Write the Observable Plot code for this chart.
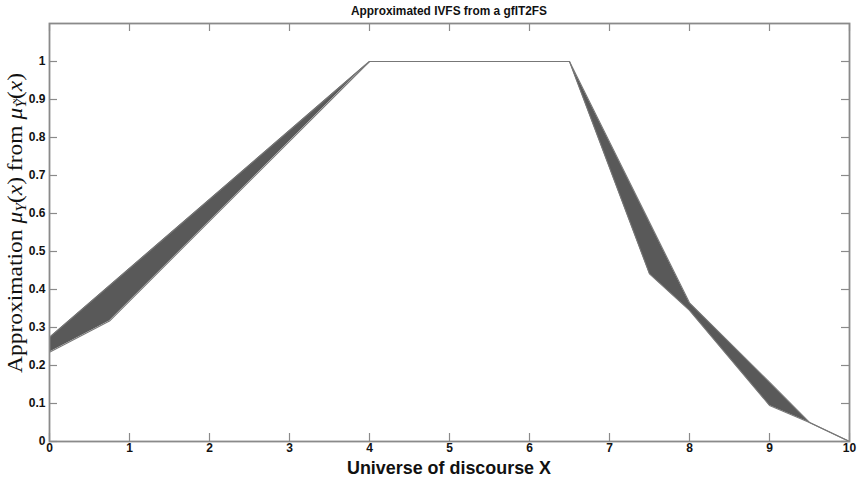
<!DOCTYPE html>
<html><head><meta charset="utf-8">
<script src="https://cdn.jsdelivr.net/npm/d3@7"></script>
<script src="https://cdn.jsdelivr.net/npm/@observablehq/plot@0.6"></script>
<style>body{margin:0;background:#fff}</style>
</head><body><div id="chart"></div>
<script>
// Data
const xValues     = [0,     0.75,  4, 6.5, 7.5,   8,     9,     9.5,  10];
const lowerValues = [0.235, 0.317, 1, 1,   0.441, 0.345, 0.095, 0.05, 0];
const upperValues = [0.274, 0.41,  1, 1,   0.577, 0.365, 0.156, 0.05, 0];
const xTicks = [0, 1, 2, 3, 4, 5, 6, 7, 8, 9, 10];
const yTicks = [0, 0.1, 0.2, 0.3, 0.4, 0.5, 0.6, 0.7, 0.8, 0.9, 1];
const titleText = "Approximated IVFS from a gfIT2FS";
const xLabelText = "Universe of discourse X";

const data = xValues.map((x, i) => ({x, lo: lowerValues[i], hi: upperValues[i]}));

const W = 859, H = 480, mL = 49, mR = 10, mT = 23, mB = 39;
const innerW = W - mL - mR, innerH = H - mT - mB, tickLen = 8;
const axisColor = "#8a8a8a";

const chart = Plot.plot({
  width: W, height: H,
  marginLeft: mL, marginRight: mR, marginTop: mT, marginBottom: mB,
  style: {fontFamily: "'Liberation Sans Narrow', 'Liberation Sans', Arial, sans-serif", fontSize: "12px", color: "#111", background: "#fff"},
  x: {domain: [0, 10]},
  y: {domain: [0, 1.1]},
  marks: [
    Plot.areaY(data, {x: "x", y1: "lo", y2: "hi", fill: "#595959"}),
    Plot.line(data, {x: "x", y: "hi", stroke: "#777", strokeWidth: 1.1}),
    Plot.line(data, {x: "x", y: "lo", stroke: "#777", strokeWidth: 1.1}),
    Plot.ruleX(xTicks, {x: d => d, insetTop: innerH - tickLen, stroke: axisColor, strokeWidth: 1.2}),
    Plot.ruleX(xTicks, {x: d => d, insetBottom: innerH - tickLen, stroke: axisColor, strokeWidth: 1.2}),
    Plot.ruleY(yTicks, {y: d => d, insetRight: innerW - tickLen, stroke: axisColor, strokeWidth: 1.2}),
    Plot.ruleY(yTicks, {y: d => d, insetLeft: innerW - tickLen, stroke: axisColor, strokeWidth: 1.2}),
    Plot.axisX(xTicks, {tickSize: 0, tickPadding: 2, label: null, tickFormat: d => String(d), fontWeight: "bold", fill: "#111"}),
    Plot.axisY(yTicks, {tickSize: 0, tickPadding: 4, label: null, tickFormat: d => String(+d.toFixed(1)), fontWeight: "bold", fill: "#111"}),
    Plot.frame({stroke: axisColor, strokeWidth: 1.8})
  ]
});

const svg = d3.select(chart);
svg.append("text")
  .attr("x", 449).attr("y", 15)
  .attr("text-anchor", "middle")
  .attr("font-family", "'Liberation Sans Narrow', 'Liberation Sans', Arial, sans-serif")
  .attr("font-size", 12).attr("font-weight", "bold").attr("fill", "#111")
  .attr("textLength", 196).attr("lengthAdjust", "spacingAndGlyphs")
  .text(titleText);

svg.append("text")
  .attr("x", 449).attr("y", 474)
  .attr("text-anchor", "middle")
  .attr("font-family", "'Liberation Sans Narrow', 'Liberation Sans', Arial, sans-serif")
  .attr("font-size", 19).attr("font-weight", "bold").attr("fill", "#111")
  .attr("textLength", 204).attr("lengthAdjust", "spacingAndGlyphs")
  .text(xLabelText);

const yl = svg.append("text")
  .attr("transform", "translate(22,223) rotate(-90)")
  .attr("text-anchor", "middle")
  .attr("font-family", "'Liberation Serif', 'DejaVu Serif', serif")
  .attr("font-size", 21).attr("fill", "#111")
  .attr("textLength", 300).attr("lengthAdjust", "spacingAndGlyphs");
yl.append("tspan").text("Approximation ");
yl.append("tspan").attr("font-style", "italic").text("μ");
yl.append("tspan").attr("font-style", "italic").attr("font-size", 14).attr("dy", 4).text("Y");
yl.append("tspan").attr("dy", -4).text("(");
yl.append("tspan").attr("font-style", "italic").text("x");
yl.append("tspan").text(") from ");
yl.append("tspan").attr("font-style", "italic").text("μ");
yl.append("tspan").attr("font-style", "italic").attr("font-size", 14).attr("dy", 4).text("Ỹ");
yl.append("tspan").attr("dy", -4).text("(");
yl.append("tspan").attr("font-style", "italic").text("x");
yl.append("tspan").text(")");

document.getElementById("chart").appendChild(chart);
</script>
</body></html>
